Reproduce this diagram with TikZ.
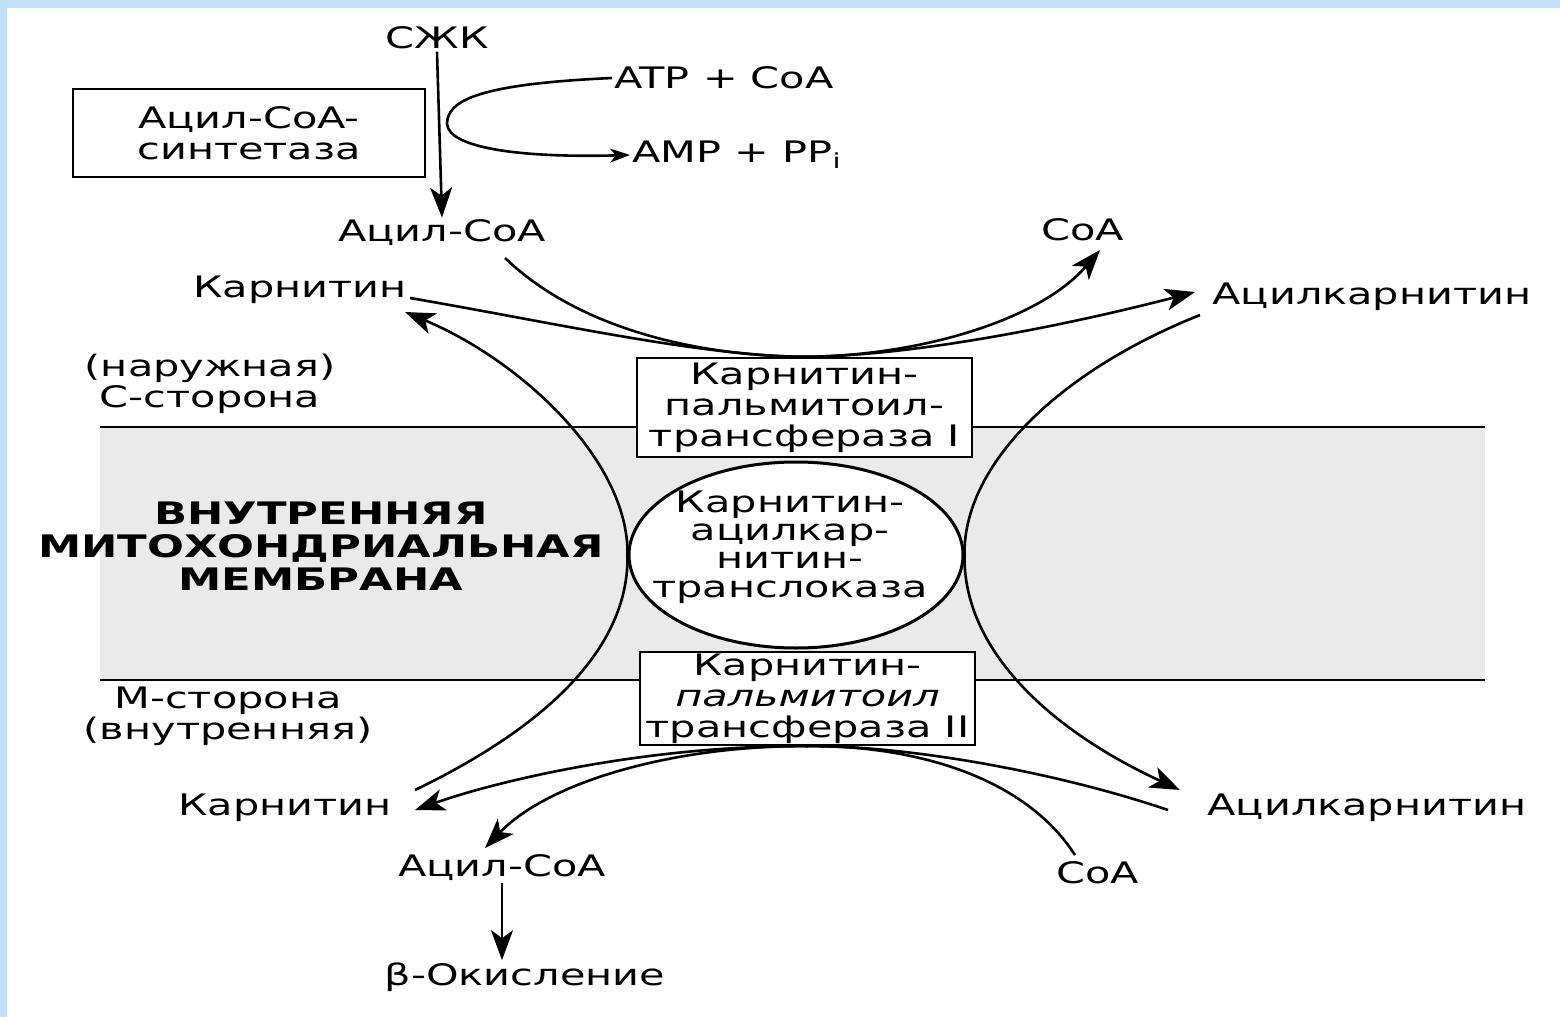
\documentclass[tikz,border=0pt]{standalone}
\usepackage{fontspec}
\setmainfont{DejaVu Sans}[FakeStretch=1.4]
\usetikzlibrary{arrows.meta,shapes.geometric}
\definecolor{frameblue}{RGB}{193,225,249}
\definecolor{membgray}{RGB}{234,234,234}
\begin{document}
\begin{tikzpicture}[x=0.5pt,y=-0.5pt,
  lbl/.style={font=\fontsize{14.8}{15.5}\selectfont, inner sep=1pt},
  enz/.style={draw, line width=1.2pt, fill=white, align=center, inner sep=0pt,
              font=\fontsize{14.8}{15.5}\selectfont},
  conn/.style={line width=1.3pt},
  arr/.style={conn, -{Stealth[length=15pt,width=11pt,inset=4pt]}},
  sarr/.style={conn, -{Stealth[length=10pt,width=7pt,inset=3pt]}},
]
\useasboundingbox (0,0) rectangle (1560,1017);
\fill[white] (0,0) rectangle (1560,1017);
\fill[frameblue] (0,0) rectangle (1560,8);
\fill[frameblue] (0,0) rectangle (7,1017);

% membrane
\fill[membgray] (100,427) rectangle (1485,680);
\draw[line width=0.9pt] (100,427) -- (1485,427);
\draw[line width=0.9pt] (100,680) -- (1485,680);
\node[align=center, font=\bfseries\fontsize{15.5}{16.5}\selectfont] (memb) at (321,546)
  {ВНУТРЕННЯЯ\\МИТОХОНДРИАЛЬНАЯ\\МЕМБРАНА};

% labels
\node[lbl] (szhk) at (437,38) {СЖК};
\node[enz, minimum width=176pt, minimum height=44pt] (synth) at (249,133) {Ацил-CoA-\\синтетаза};
\node[lbl, anchor=west] (atp) at (612,78) {ATP + CoA};
\node[lbl, anchor=west] (amp) at (630,155) {AMP + PP\textsubscript{i}};
\node[lbl] (acoa1) at (442,233) {Ацил-CoA};
\node[lbl] (coa1) at (1083,230) {CoA};
\node[lbl] (carn1) at (300,290) {Карнитин};
\node[lbl] (acarn1) at (1372,297) {Ацилкарнитин};
\node[lbl, align=center] (cside) at (210,384) {(наружная)\\С-сторона};
\node[lbl, align=center] (mside) at (228,716) {М-сторона\\(внутренняя)};
\node[lbl] (carn2) at (285,808) {Карнитин};
\node[lbl] (acarn2) at (1367,808) {Ацилкарнитин};
\node[lbl] (acoa2) at (502,868) {Ацил-CoA};
\node[lbl] (coa2) at (1098,873) {CoA};
\node[lbl] (beta) at (525,977) {β-Окисление};

% enzymes
\node[enz, minimum width=167.5pt, minimum height=49.5pt] (cpt1) at (804.5,407.5)
  {Карнитин-\\пальмитоил-\\трансфераза I};
\node[draw, ellipse, line width=1.5pt, fill=white, inner sep=0pt,
      minimum width=167pt, minimum height=93pt] (tl) at (796,555) {};
\node[align=center, inner sep=0pt, font=\fontsize{14.8}{14.2}\selectfont] (tltext) at (790,547)
  {Карнитин-\\ацилкар-\\нитин-\\транслоказа};
\node[enz, minimum width=167.5pt, minimum height=46.5pt] (cpt2) at (807.5,698.5)
  {Карнитин-\\\textit{пальмитоил}\\трансфераза II};

% free ends of connectors
\coordinate (c1s) at (505,258);
\coordinate (c1e) at (1100,250);
\coordinate (c2s) at (410,298);
\coordinate (c2e) at (1195,292);
\coordinate (c3s) at (415,790);
\coordinate (c3e) at (405,312);
\coordinate (c4s) at (1200,315);
\coordinate (c4e) at (1180,790);
\coordinate (c5s) at (1168,810);
\coordinate (c5e) at (415,810);
\coordinate (c6s) at (1075,855);
\coordinate (c6e) at (485,848);
\coordinate (touch) at (447,124);

% connectors
\draw[arr] (szhk.south) -- (acoa1.north);
\draw[sarr] (atp.west) .. controls (480,84) and (447,100) .. (touch)
  .. controls (449,148) and (520,158) .. (amp.west);
\draw[arr] (c1s) .. controls (580,330) and (700,356) .. (cpt1.north)
  .. controls (920,356) and (1040,320) .. (c1e);
\draw[arr] (c2s) .. controls (550,322) and (700,356) .. (cpt1.north)
  .. controls (920,356) and (1080,322) .. (c2e);
\draw[arr] (c3s) .. controls (560,720) and (629,640) .. (tl.west)
  .. controls (629,460) and (520,360) .. (c3e);
\draw[arr] (c4s) .. controls (1050,375) and (963,470) .. (tl.east)
  .. controls (963,650) and (1050,730) .. (c4e);
\draw[arr] (c5s) .. controls (1050,770) and (900,745) .. (cpt2.south)
  .. controls (650,745) and (500,780) .. (c5e);
\draw[arr] (c6s) .. controls (1020,770) and (900,745) .. (cpt2.south)
  .. controls (680,745) and (550,780) .. (c6e);
\draw[arr] (acoa2.south) -- (acoa2.south|-beta.north);
\end{tikzpicture}
\end{document}
